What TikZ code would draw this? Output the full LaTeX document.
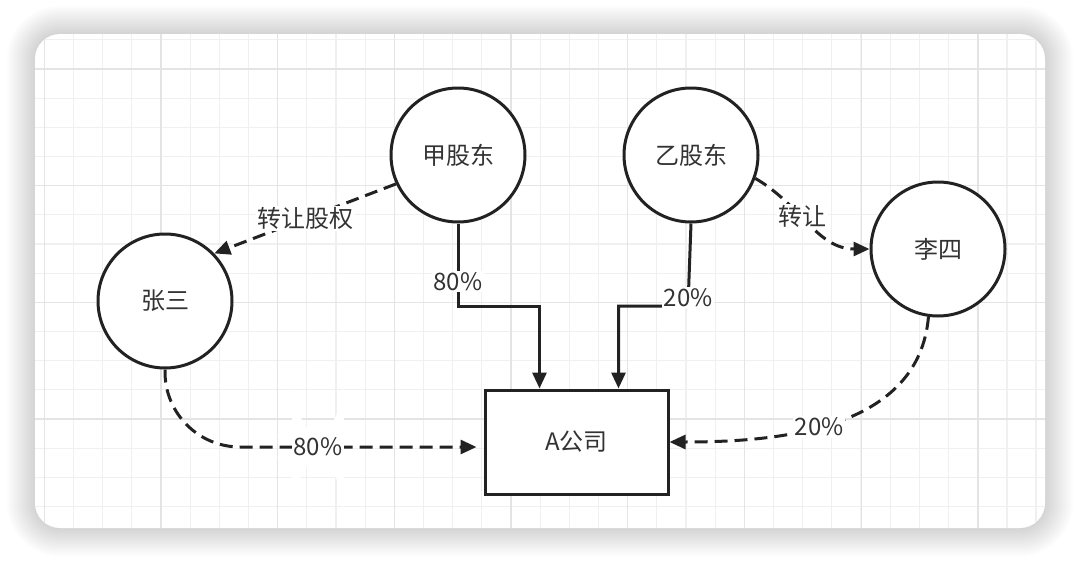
\documentclass[tikz,border=0pt]{standalone}
\usepackage{fontspec}
\setmainfont{Noto Sans CJK SC}
\usetikzlibrary{arrows.meta,positioning,calc}
\definecolor{ink}{RGB}{34,34,34}
\definecolor{txt}{RGB}{51,51,51}
\definecolor{gridminor}{RGB}{240,240,240}
\definecolor{gridmajor}{RGB}{228,228,228}

\begin{document}
\begin{tikzpicture}[x=1pt,y=-1pt,
    every node/.style={font=\fontsize{24}{28}\selectfont,text=txt,align=center},
    holder/.style={circle,draw=ink,line width=3pt,fill=white,minimum size=134pt,inner sep=0pt},
    firm/.style={draw=ink,line width=3pt,fill=white,minimum width=183pt,minimum height=104pt},
    own/.style={-{Triangle[length=16pt,width=14pt]},line width=3pt,draw=ink},
    move/.style={own,dash pattern=on 13pt off 7pt},
    lbl/.style={fill=white,inner sep=1.5pt}]
    % page and card
    \useasboundingbox (0,0) rectangle (1080,562);
    \fill[white] (0,0) rectangle (1080,562);
    \foreach \k [evaluate=\k as \r using 25+2*\k] in {1,...,14}
      \fill[black,opacity=0.01,rounded corners=\r pt] ({35-2*\k},{34-2*\k}) rectangle ({1045+2*\k},{528+2*\k});
    \fill[white,rounded corners=25pt] (35,34) rectangle (1045,528);
    \begin{scope}
      \clip[rounded corners=25pt] (35,34) rectangle (1045,528);
      \foreach \i in {-1,...,35}
        \draw[gridminor,line width=1.2pt] ({44.3+29.17*\i},34) -- ++(0,494);
      \foreach \j in {-2,...,17}
        \draw[gridminor,line width=1.2pt] (35,{69+29.17*\j}) -- ++(1010,0);
      \foreach \i in {0,...,8}
        \draw[gridmajor,line width=1.3pt] ({44.3+116.7*\i},34) -- ++(0,494);
      \foreach \j in {0,...,4}
        \draw[gridmajor,line width=1.3pt] (35,{-47.7+116.7*\j}) -- ++(1010,0);
    \end{scope}
    % holders and company
    \node[holder] (jia) at (458,155) {甲股东};
    \node[holder,right=96pt of jia] (yi) {乙股东};
    \node[holder] (zhang) at (165,301) {张三};
    \node[holder] (li) at (938,249) {李四};
    \node[firm] (firm) at (576.5,442) {A公司};
    \coordinate (jturn) at (458,306);
    \coordinate (yturn) at (688,306);
    % transfers
    \draw[move] (jia.205) -- node[lbl]{转让股权} (zhang.44);
    \draw[move] (yi.-20) to[out=-30,in=180] node[lbl,pos=0.42]{转让} (li.west);
    % original shares
    \draw[own] (jia.south) -- node[lbl,pos=0.7]{80\%} (jturn) -| ([xshift=-37pt]firm.north);
    \draw[own] (yi.south) -- node[lbl,pos=0.9]{20\%} (yturn) -| ([xshift=42pt]firm.north);
    % shares after transfer
    \draw[move,rounded corners=75pt,shorten >=7pt] (zhang.south) |- node[lbl,pos=0.74]{80\%} ([yshift=-5pt]firm.west);
    \draw[move] (li.-98) to[out=-95,in=0] node[lbl,pos=0.56]{20\%} (firm.east);
  \end{tikzpicture}
\end{document}
